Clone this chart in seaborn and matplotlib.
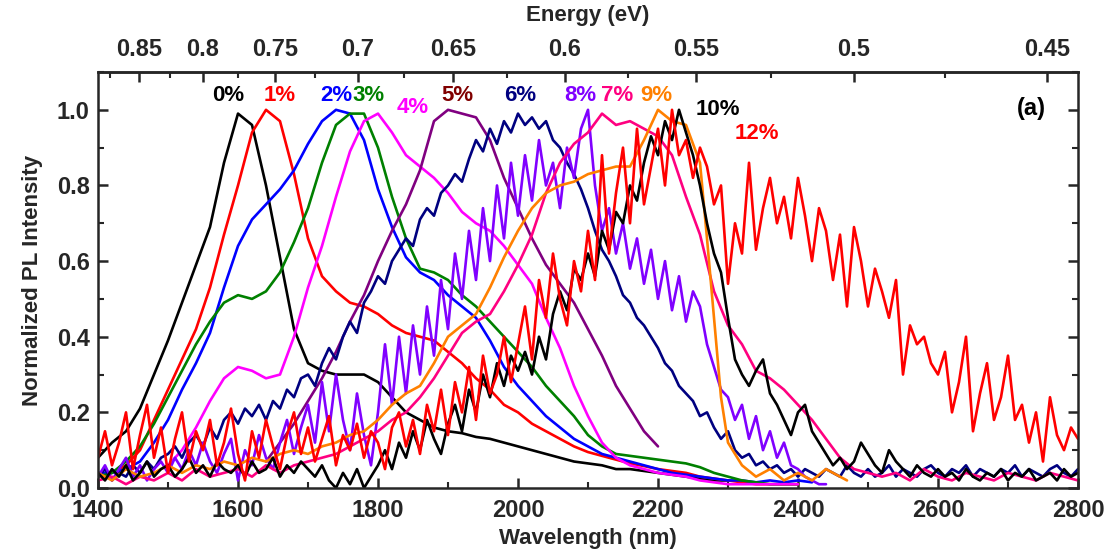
import numpy as np
import pandas as pd
import matplotlib
matplotlib.use("Agg")
import matplotlib.pyplot as plt
from matplotlib.ticker import MultipleLocator, FixedLocator
import seaborn as sns

# ---------------- data: normalized PL spectra (wavelength in nm) ----------------
# each series: first wavelength, wavelength step, intensity values
pl_0 = [0.08, 0.12, 0.15, 0.21, 0.30, 0.39, 0.49, 0.59, 0.69, 0.86, 0.99, 0.96, 0.80,
        0.61, 0.42, 0.33, 0.31, 0.30, 0.30, 0.30, 0.28, 0.24, 0.20, 0.18, 0.16, 0.15,
        0.145, 0.135, 0.13, 0.12, 0.11, 0.10, 0.09, 0.08, 0.07, 0.065, 0.06, 0.05,
        0.05, 0.045, 0.04, 0.035, 0.03, 0.025, 0.02, 0.02]
pl_1 = [0.03, 0.04, 0.06, 0.10, 0.18, 0.26, 0.34, 0.42, 0.53, 0.67, 0.80, 0.94, 1.00,
        0.97, 0.83, 0.66, 0.56, 0.52, 0.49, 0.48, 0.46, 0.43, 0.41, 0.40, 0.39, 0.36,
        0.33, 0.29, 0.26, 0.22, 0.20, 0.17, 0.15, 0.13, 0.11, 0.095, 0.085, 0.075,
        0.065, 0.058, 0.05, 0.045, 0.04, 0.03, 0.025, 0.02, 0.015, 0.01, 0.01, 0.01, 0.01]
pl_2 = [0.04, 0.04, 0.05, 0.07, 0.12, 0.18, 0.26, 0.33, 0.41, 0.53, 0.64, 0.71, 0.75,
        0.79, 0.84, 0.91, 0.97, 1.00, 0.99, 0.92, 0.79, 0.69, 0.61, 0.57, 0.55, 0.51,
        0.48, 0.45, 0.39, 0.32, 0.27, 0.23, 0.19, 0.16, 0.13, 0.11, 0.09, 0.08, 0.07,
        0.06, 0.05, 0.04, 0.035, 0.03, 0.025, 0.02, 0.02, 0.015, 0.02, 0.015, 0.02,
        0.015]
pl_3 = [0.03, 0.04, 0.07, 0.11, 0.17, 0.24, 0.31, 0.38, 0.44, 0.49, 0.51, 0.50, 0.52,
        0.57, 0.65, 0.74, 0.86, 0.96, 0.99, 0.99, 0.90, 0.77, 0.66, 0.58, 0.57, 0.55,
        0.51, 0.48, 0.44, 0.40, 0.36, 0.32, 0.27, 0.23, 0.19, 0.14, 0.11, 0.09, 0.085,
        0.08, 0.075, 0.07, 0.065, 0.055, 0.04, 0.03, 0.02, 0.015, 0.01, 0.01, 0.01]
pl_4 = [0.06, 0.10, 0.16, 0.23, 0.29, 0.32, 0.31, 0.29, 0.30, 0.40, 0.53, 0.64, 0.77,
        0.89, 0.97, 0.99, 0.94, 0.88, 0.85, 0.82, 0.78, 0.73, 0.70, 0.68, 0.64, 0.59,
        0.54, 0.45, 0.37, 0.27, 0.19, 0.12, 0.08, 0.06, 0.05, 0.04, 0.035, 0.03, 0.02,
        0.015, 0.01, 0.01, 0.01, 0.01, 0.01, 0.01]
pl_5 = [0.07, 0.12, 0.17, 0.23, 0.29, 0.36, 0.44, 0.51, 0.60, 0.68, 0.75, 0.84, 0.97,
        1.00, 0.99, 0.98, 0.92, 0.82, 0.74, 0.66, 0.59, 0.54, 0.49, 0.42, 0.35, 0.27,
        0.21, 0.15, 0.11]
pl_6 = [0.03, 0.05, 0.02, 0.04, 0.03, 0.06, 0.04, 0.07, 0.05, 0.08,
        0.09, 0.11, 0.08, 0.12, 0.14, 0.11, 0.16, 0.13, 0.18, 0.20,
        0.17, 0.21, 0.19, 0.22, 0.18, 0.23, 0.21, 0.26, 0.24, 0.29,
        0.30, 0.27, 0.33, 0.37, 0.34, 0.40, 0.44, 0.41, 0.49, 0.52,
        0.56, 0.54, 0.60, 0.63, 0.66, 0.64, 0.71, 0.74, 0.72, 0.78,
        0.80, 0.83, 0.81, 0.87, 0.92, 0.89, 0.95, 0.91, 0.97, 0.94,
        0.99, 0.96, 0.98, 0.95, 0.97, 0.92, 0.90, 0.86, 0.83, 0.79,
        0.74, 0.68, 0.63, 0.60, 0.56, 0.51, 0.49, 0.45, 0.43, 0.40,
        0.37, 0.33, 0.31, 0.27, 0.25, 0.23, 0.19, 0.20, 0.16, 0.13,
        0.15, 0.10, 0.08, 0.09, 0.06, 0.07, 0.05, 0.06, 0.04, 0.05,
        0.03, 0.05, 0.04, 0.03, 0.05, 0.04, 0.03, 0.06, 0.04, 0.03,
        0.05, 0.03, 0.04, 0.06, 0.03, 0.05, 0.04, 0.03, 0.05, 0.06,
        0.04, 0.03, 0.05, 0.04, 0.06, 0.03, 0.05, 0.04, 0.03, 0.05,
        0.04, 0.06, 0.03, 0.05, 0.04, 0.03, 0.05, 0.06, 0.04, 0.03, 0.05]
pl_7 = [0.02, 0.03, 0.01, 0.03, 0.02, 0.04, 0.02, 0.05, 0.03, 0.04, 0.05, 0.03, 0.06,
        0.04, 0.06, 0.07, 0.08, 0.09, 0.11, 0.13, 0.15, 0.18, 0.20, 0.24, 0.29, 0.35,
        0.41, 0.44, 0.46, 0.52, 0.59, 0.67, 0.78, 0.86, 0.91, 0.94, 0.99, 0.96, 0.97,
        0.95, 0.93, 0.88, 0.77, 0.67, 0.52, 0.43, 0.38, 0.31, 0.29, 0.26, 0.22, 0.18,
        0.13, 0.08, 0.05, 0.04, 0.03, 0.04, 0.02, 0.05, 0.03, 0.02, 0.04, 0.03, 0.02,
        0.04, 0.03, 0.02, 0.04, 0.03, 0.02]
pl_8 = [0.03, 0.06, 0.02, 0.05, 0.08, 0.03, 0.06, 0.02, 0.05, 0.07,
        0.04, 0.08, 0.05, 0.10, 0.06, 0.12, 0.07, 0.04, 0.09, 0.13,
        0.02, 0.10, 0.06, 0.14, 0.08, 0.05, 0.12, 0.18, 0.09, 0.16,
        0.22, 0.12, 0.28, 0.15, 0.30, 0.18, 0.10, 0.25, 0.14, 0.06,
        0.20, 0.38, 0.22, 0.40, 0.25, 0.43, 0.30, 0.48, 0.35, 0.55,
        0.42, 0.62, 0.50, 0.68, 0.55, 0.74, 0.60, 0.80, 0.66, 0.86,
        0.72, 0.88, 0.76, 0.92, 0.80, 0.86, 0.74, 0.90, 0.82, 0.95,
        1.00, 0.80, 0.68, 0.74, 0.62, 0.70, 0.58, 0.66, 0.54, 0.63,
        0.50, 0.60, 0.47, 0.56, 0.44, 0.52, 0.48, 0.38, 0.32, 0.26,
        0.24, 0.18, 0.22, 0.13, 0.19, 0.10, 0.15, 0.08, 0.12, 0.06,
        0.05, 0.03, 0.02, 0.01, 0.01]
wl_9 = [1400, 1420, 1440, 1460, 1480, 1500, 1520, 1540, 1560, 1580, 1600, 1620, 1640,
        1660, 1680, 1700, 1720, 1740, 1760, 1780, 1800, 1820, 1840, 1860, 1880, 1900,
        1920, 1940, 1960, 1980, 2000, 2020, 2040, 2060, 2080, 2100, 2120, 2140, 2160,
        2180, 2200, 2220, 2240, 2260, 2270, 2280, 2290, 2300, 2320, 2340, 2360, 2380,
        2400, 2420, 2440, 2460, 2470]
pl_9 = [0.04, 0.02, 0.05, 0.03, 0.04, 0.06, 0.04, 0.06, 0.05, 0.07, 0.06, 0.08, 0.07,
        0.09, 0.10, 0.09, 0.11, 0.12, 0.14, 0.15, 0.18, 0.22, 0.25, 0.27, 0.33, 0.40,
        0.43, 0.46, 0.53, 0.61, 0.68, 0.74, 0.78, 0.80, 0.81, 0.83, 0.84, 0.85, 0.85,
        0.92, 1.00, 0.97, 0.96, 0.86, 0.66, 0.45, 0.24, 0.12, 0.06, 0.03, 0.05, 0.02,
        0.04, 0.02, 0.05, 0.03, 0.02]
pl_10 = [0.04, 0.02, 0.05, 0.03, 0.06, 0.02, 0.04, 0.07, 0.03, 0.05,
         0.06, 0.03, 0.05, 0.08, 0.04, 0.06, 0.03, 0.07, 0.05, 0.04,
         0.06, 0.03, 0.07, 0.04, 0.05, 0.08, 0.03, 0.06, 0.04, 0.07,
         0.05, 0.03, 0.06, 0.02, 0.00, 0.04, 0.01, 0.05, 0.00, 0.03,
         0.06, 0.10, 0.05, 0.12, 0.08, 0.15, 0.10, 0.18, 0.13, 0.09,
         0.17, 0.22, 0.15, 0.26, 0.20, 0.30, 0.24, 0.33, 0.27, 0.35,
         0.31, 0.36, 0.30, 0.40, 0.34, 0.46, 0.52, 0.47, 0.58, 0.55,
         0.62, 0.56, 0.68, 0.63, 0.73, 0.70, 0.80, 0.76, 0.86, 0.93,
         0.88, 0.97, 0.92, 1.00, 0.94, 0.88, 0.80, 0.70, 0.62, 0.57,
         0.45, 0.34, 0.30, 0.27, 0.31, 0.34, 0.25, 0.22, 0.18, 0.14,
         0.20, 0.22, 0.15, 0.12, 0.09, 0.06, 0.08, 0.05, 0.07, 0.12,
         0.09, 0.06, 0.04, 0.10, 0.07, 0.05, 0.03, 0.06, 0.04, 0.03,
         0.05, 0.03, 0.04, 0.02, 0.05, 0.03, 0.02, 0.04, 0.03, 0.05,
         0.02, 0.04, 0.03, 0.05, 0.02, 0.03, 0.04, 0.02, 0.05, 0.03, 0.04]
pl_12 = [0.08, 0.15, 0.06, 0.12, 0.20, 0.05, 0.14, 0.22, 0.08, 0.16,
         0.04, 0.13, 0.20, 0.07, 0.15, 0.10, 0.18, 0.06, 0.12, 0.21,
         0.09, 0.02, 0.15, 0.08, 0.18, 0.11, 0.05, 0.14, 0.20, 0.09,
         0.16, 0.07, 0.13, 0.19, 0.06, 0.14, 0.10, 0.17, 0.08, 0.15,
         0.12, 0.05, 0.16, 0.20, 0.11, 0.18, 0.09, 0.22, 0.15, 0.26,
         0.14, 0.28, 0.20, 0.32, 0.18, 0.35, 0.25, 0.30, 0.40, 0.28,
         0.38, 0.48, 0.34, 0.55, 0.45, 0.62, 0.50, 0.43, 0.60, 0.52,
         0.68, 0.55, 0.88, 0.62, 0.78, 0.90, 0.70, 0.95, 0.75, 0.85,
         0.95, 0.80, 1.00, 0.88, 0.92, 0.82, 0.90, 0.85, 0.75, 0.80,
         0.54, 0.70, 0.62, 0.86, 0.63, 0.74, 0.82, 0.70, 0.77, 0.66,
         0.82, 0.72, 0.60, 0.74, 0.68, 0.55, 0.67, 0.48, 0.69, 0.60,
         0.48, 0.58, 0.52, 0.45, 0.55, 0.30, 0.43, 0.38, 0.40, 0.33,
         0.30, 0.36, 0.20, 0.28, 0.40, 0.15, 0.25, 0.33, 0.18, 0.24,
         0.35, 0.18, 0.22, 0.12, 0.20, 0.07, 0.24, 0.14, 0.10, 0.16, 0.13]

# series label, first wavelength, step (nm), values, line colour
series = [
    ("0%", 1400, 20, pl_0, "#000000"),
    ("1%", 1400, 20, pl_1, "#FF0000"),
    ("2%", 1400, 20, pl_2, "#0000FF"),
    ("3%", 1400, 20, pl_3, "#008000"),
    ("4%", 1500, 20, pl_4, "#FF00FF"),
    ("5%", 1640, 20, pl_5, "#800080"),
    ("6%", 1400, 10, pl_6, "#000080"),
    ("8%", 1400, 10, pl_8, "#8000FF"),
    ("7%", 1400, 20, pl_7, "#FF0080"),
    ("9%", None, None, pl_9, "#FF8000"),
    ("10%", 1400, 10, pl_10, "#000000"),
    ("12%", 1400, 10, pl_12, "#FF0000"),
]

# curve labels: text, wavelength, height, text colour
label_text = ["0%", "1%", "2%", "3%", "4%", "5%", "6%", "8%", "7%", "9%", "10%", "12%"]
label_wl = [1586, 1660, 1740, 1787, 1849, 1913, 2003, 2089, 2141, 2197, 2286, 2341]
label_y = [1.037, 1.037, 1.037, 1.037, 1.005, 1.037, 1.037, 1.037, 1.037, 1.037, 1.0, 0.937]
label_color = ["#000000", "#FF0000", "#0000FF", "#008000", "#FF00FF", "#800000",
               "#000080", "#8000FF", "#FF0080", "#FF8000", "#000000", "#FF0000"]

energy_ticks = [0.85, 0.8, 0.75, 0.7, 0.65, 0.6, 0.55, 0.5, 0.45]
energy_minor = [0.875, 0.825, 0.775, 0.725, 0.675, 0.625, 0.575, 0.525, 0.475]

# ---------------- long-form table ----------------
frames = []
for order, (name, start, step, vals, col) in enumerate(series):
    if start is None:
        wl = np.asarray(wl_9, float)
    else:
        wl = start + step * np.arange(len(vals))
    frames.append(pd.DataFrame({"wavelength": wl, "intensity": vals,
                                "sample": name, "order": order}))
data = pd.concat(frames, ignore_index=True)

# ---------------- style ----------------
sns.set_theme(style="ticks")
plt.rcParams["font.family"] = ["Liberation Sans", "DejaVu Sans"]
plt.rcParams["font.weight"] = "bold"
plt.rcParams["axes.labelweight"] = "bold"
plt.rcParams["axes.linewidth"] = 1.8

fig = plt.figure(figsize=(11.12, 5.54), dpi=100)
ax = fig.add_axes([98 / 1112, 66 / 554, 980 / 1112, 416 / 554])

for order, (name, start, step, vals, col) in enumerate(series):
    sub = data[data["order"] == order]
    sns.lineplot(data=sub, x="wavelength", y="intensity", ax=ax, color=col,
                 linewidth=1.9, estimator=None, sort=False, legend=False)

ax.set_xlim(1400, 2800)
ax.set_ylim(0, 1.1)
ax.xaxis.set_major_locator(MultipleLocator(200))
ax.xaxis.set_minor_locator(MultipleLocator(100))
ax.set_yticks([0.0, 0.2, 0.4, 0.6, 0.8, 1.0])
ax.set_yticklabels(["0.0", "0.2", "0.4", "0.6", "0.8", "1.0"])
ax.yaxis.set_minor_locator(MultipleLocator(0.1))
ax.tick_params(axis="both", which="major", direction="in", length=7, width=1.8,
               labelsize=17, right=True, top=False)
ax.tick_params(axis="x", which="major", pad=8)
ax.tick_params(axis="y", which="major", pad=6)
ax.tick_params(axis="both", which="minor", direction="in", length=4, width=1.5,
               right=True, top=False)
for lab in ax.get_xticklabels() + ax.get_yticklabels():
    lab.set_fontweight("bold")
ax.set_xlabel("Wavelength (nm)", fontsize=16, fontweight="bold", labelpad=4)
ax.set_ylabel("Normalized PL Intensity", fontsize=16, fontweight="bold", labelpad=10)
for sp in ax.spines.values():
    sp.set_linewidth(1.8)
    sp.set_visible(True)


def nm_to_ev(x):
    x = np.asarray(x, float)
    with np.errstate(divide="ignore", invalid="ignore"):
        return 1240.0 / x


top = ax.secondary_xaxis("top", functions=(nm_to_ev, nm_to_ev))
top.set_xticks(energy_ticks)
top.set_xticklabels([f"{e:g}" for e in energy_ticks])
top.xaxis.set_minor_locator(FixedLocator(energy_minor))
top.tick_params(axis="x", which="major", direction="in", length=7, width=1.8,
                labelsize=17, pad=8)
top.tick_params(axis="x", which="minor", direction="in", length=4, width=1.5)
for lab in top.get_xticklabels():
    lab.set_fontweight("bold")
top.set_xlabel("Energy (eV)", fontsize=16, fontweight="bold", labelpad=12)

for txt, x, y, c in zip(label_text, label_wl, label_y, label_color):
    ax.text(x, y, txt, color=c, fontsize=16, fontweight="bold",
            ha="center", va="center")
ax.text(2734, 1.003, "(a)", color="black", fontsize=17, fontweight="bold",
        ha="center", va="center")

fig.savefig("out.png", dpi=100)
